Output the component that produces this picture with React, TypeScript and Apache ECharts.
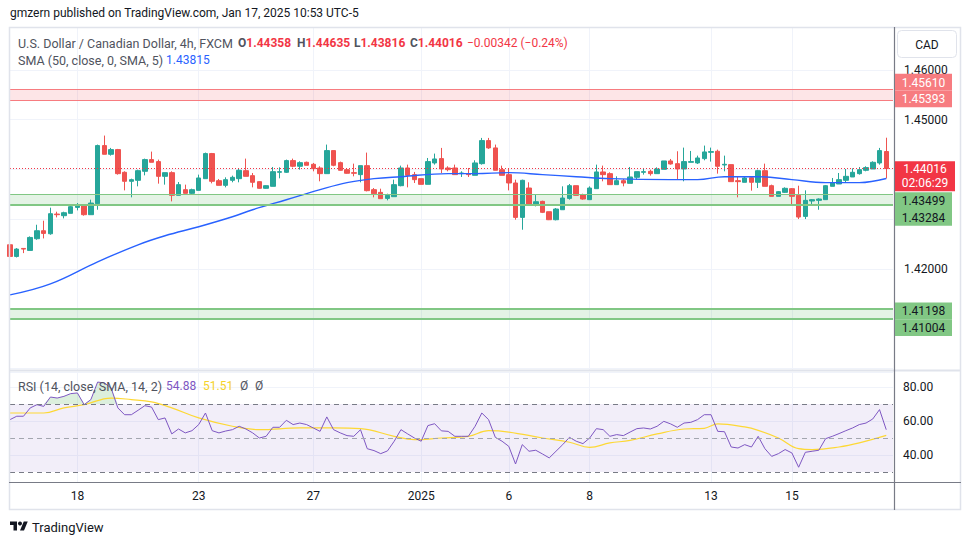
import React, { useEffect, useRef } from "react";
import * as echarts from "echarts";

echarts.graphic.registerShape(
  "tvlogo",
  echarts.graphic.extendPath("M14 22H7V11H0V4h14v18zM28 22h-8l7.5-18h8L28 22z", {})
);

const FONT = "Roboto, 'Noto Sans', sans-serif";

// ---- data ----
// bar slots (4h bars); last slot left empty as right margin
const barSlots: string[] = Array.from({ length: 132 }, (_, i) => String(i));
const dateTickIndex = [10, 28, 45, 61, 74, 86, 104, 116];
const dateTickLabels = ["18", "23", "27", "2025", "6", "8", "13", "15"];

// [open, close, low, high]
const candles: number[][] = [
  [1.42484, 1.42249, 1.42236, 1.42497], [1.42249, 1.42397, 1.42229, 1.42417], [1.4241, 1.42397, 1.42316, 1.42417],
  [1.4237, 1.42631, 1.4237, 1.42652], [1.42605, 1.42766, 1.42584, 1.42886], [1.42766, 1.42712, 1.42611, 1.42967],
  [1.42705, 1.43108, 1.42685, 1.43229], [1.43101, 1.43088, 1.43034, 1.43148], [1.43068, 1.43128, 1.43014, 1.43148],
  [1.43115, 1.43249, 1.43115, 1.43282], [1.43235, 1.43282, 1.43175, 1.43322], [1.43289, 1.43088, 1.43068, 1.43302],
  [1.43088, 1.43322, 1.43088, 1.4339], [1.43309, 1.44477, 1.43188, 1.44497], [1.44477, 1.44302, 1.44302, 1.44678],
  [1.44302, 1.44396, 1.44275, 1.4443], [1.44396, 1.43913, 1.43893, 1.4441], [1.4394, 1.43759, 1.43577, 1.4396],
  [1.43759, 1.43792, 1.43437, 1.43812], [1.43779, 1.43973, 1.43658, 1.43993], [1.4396, 1.44195, 1.43879, 1.44215],
  [1.44195, 1.44141, 1.44141, 1.44356], [1.44155, 1.43859, 1.43712, 1.44195], [1.43859, 1.43933, 1.43692, 1.43933],
  [1.43933, 1.43477, 1.43356, 1.4396], [1.43477, 1.43692, 1.43477, 1.43745], [1.43591, 1.43517, 1.43517, 1.43692],
  [1.43517, 1.43591, 1.4349, 1.43611], [1.43577, 1.43826, 1.43577, 1.43893], [1.43812, 1.44316, 1.43812, 1.44336],
  [1.44316, 1.43759, 1.43718, 1.44329], [1.43772, 1.43678, 1.43678, 1.43806], [1.43678, 1.43792, 1.43638, 1.43839],
  [1.43779, 1.43839, 1.43739, 1.43873], [1.43812, 1.4398, 1.43739, 1.44007], [1.43973, 1.43859, 1.43859, 1.44215],
  [1.43873, 1.43739, 1.43638, 1.43926], [1.43752, 1.43618, 1.43611, 1.43759], [1.43618, 1.43671, 1.43611, 1.43678],
  [1.43658, 1.43953, 1.43658, 1.44047], [1.4394, 1.43953, 1.43819, 1.4404], [1.4394, 1.44175, 1.43926, 1.44195],
  [1.44175, 1.44061, 1.4404, 1.44215], [1.44061, 1.44134, 1.43993, 1.44161], [1.44141, 1.44081, 1.44081, 1.44155],
  [1.44101, 1.44014, 1.4396, 1.44128], [1.44027, 1.43913, 1.43759, 1.44061], [1.43913, 1.44376, 1.43913, 1.44497],
  [1.44376, 1.44081, 1.44061, 1.44376], [1.44134, 1.4398, 1.43973, 1.44155], [1.43993, 1.4392, 1.43913, 1.44007],
  [1.43933, 1.4392, 1.43859, 1.44114], [1.43893, 1.44074, 1.43739, 1.44074], [1.44074, 1.43571, 1.43557, 1.44336],
  [1.43591, 1.4351, 1.43437, 1.43624], [1.43537, 1.4341, 1.4341, 1.43611], [1.43416, 1.43477, 1.43376, 1.4351],
  [1.4345, 1.43692, 1.4345, 1.43792], [1.43671, 1.44027, 1.43658, 1.44074], [1.44027, 1.43879, 1.43638, 1.44094],
  [1.43893, 1.43792, 1.43725, 1.43947], [1.43812, 1.43698, 1.43698, 1.43812], [1.43698, 1.44155, 1.43698, 1.44228],
  [1.44128, 1.44208, 1.44094, 1.44316], [1.44215, 1.44007, 1.43926, 1.4443], [1.44027, 1.43993, 1.4396, 1.44061],
  [1.44027, 1.43893, 1.43893, 1.44094], [1.43913, 1.43926, 1.43846, 1.4396], [1.43913, 1.43893, 1.43846, 1.44027],
  [1.43879, 1.44128, 1.43879, 1.44181], [1.44114, 1.44577, 1.44094, 1.44631], [1.44577, 1.4443, 1.4441, 1.44631],
  [1.4443, 1.4398, 1.4398, 1.44497], [1.43993, 1.43879, 1.43879, 1.44074], [1.43893, 1.43725, 1.43577, 1.44007],
  [1.43725, 1.43034, 1.42987, 1.43792], [1.43034, 1.43779, 1.42786, 1.43792], [1.43624, 1.43289, 1.43269, 1.43739],
  [1.43289, 1.43349, 1.43255, 1.43483], [1.43356, 1.43135, 1.43121, 1.43369], [1.43148, 1.42987, 1.4298, 1.43148],
  [1.42987, 1.43202, 1.42974, 1.43222], [1.43188, 1.43423, 1.43188, 1.43658], [1.43416, 1.43671, 1.4339, 1.43705],
  [1.43671, 1.43477, 1.43477, 1.43671], [1.4349, 1.43403, 1.4339, 1.4351], [1.4339, 1.43624, 1.4339, 1.43658],
  [1.43611, 1.43947, 1.43611, 1.44094], [1.43947, 1.43893, 1.43759, 1.44074], [1.43913, 1.43692, 1.43692, 1.4394],
  [1.43692, 1.43772, 1.43692, 1.43859], [1.43772, 1.43725, 1.43658, 1.43806], [1.43718, 1.43846, 1.43718, 1.44047],
  [1.43839, 1.43953, 1.43792, 1.43953], [1.4394, 1.43953, 1.43893, 1.44027], [1.4396, 1.43913, 1.43873, 1.43993],
  [1.43913, 1.44007, 1.43913, 1.4404], [1.44, 1.44168, 1.44, 1.44168], [1.44168, 1.44108, 1.44094, 1.44208],
  [1.44114, 1.44007, 1.43806, 1.44363], [1.44007, 1.44155, 1.43759, 1.44436], [1.44141, 1.44155, 1.44141, 1.44369],
  [1.44128, 1.44228, 1.44108, 1.44275], [1.44215, 1.44349, 1.44181, 1.44477], [1.44342, 1.44356, 1.44155, 1.44436],
  [1.44363, 1.44061, 1.43913, 1.44396], [1.44087, 1.44101, 1.4396, 1.44275], [1.44094, 1.43752, 1.43752, 1.44094],
  [1.43772, 1.43752, 1.43437, 1.43859], [1.43739, 1.43826, 1.43739, 1.43859], [1.43832, 1.43739, 1.43571, 1.43859],
  [1.43739, 1.43973, 1.43624, 1.43993], [1.43973, 1.43658, 1.43658, 1.44114], [1.43671, 1.43457, 1.43457, 1.43692],
  [1.43457, 1.43551, 1.43457, 1.43564], [1.43537, 1.43618, 1.43524, 1.43638], [1.43611, 1.43457, 1.43302, 1.43624],
  [1.43477, 1.43041, 1.43, 1.43671], [1.43054, 1.43376, 1.43, 1.43577], [1.43363, 1.4339, 1.43289, 1.43403],
  [1.43376, 1.43403, 1.43188, 1.43416], [1.4339, 1.43671, 1.4339, 1.43685], [1.43658, 1.43725, 1.43658, 1.43826],
  [1.43705, 1.43792, 1.43705, 1.43926], [1.43779, 1.43859, 1.43725, 1.44007], [1.43846, 1.4394, 1.43846, 1.4402],
  [1.43913, 1.43993, 1.43893, 1.44047], [1.4398, 1.44034, 1.4396, 1.44061], [1.44007, 1.44141, 1.44007, 1.44161],
  [1.44128, 1.44376, 1.44094, 1.4443], [1.44358, 1.44016, 1.43816, 1.44635],
];

// SMA(50) read at selected bars: [bar index, value]
const smaIdx = [0, 6, 13, 19, 23, 28, 33, 36, 41, 46, 50, 54, 58, 65, 69, 74, 79, 84, 89, 98, 102, 106, 111, 116, 121, 126, 130];
const smaVal = [1.41477, 1.41698, 1.42141, 1.42483, 1.42665, 1.42846, 1.43047, 1.43188, 1.43389, 1.43591, 1.43732, 1.43812,
  1.43852, 1.43913, 1.43913, 1.43933, 1.43893, 1.43852, 1.43812, 1.43792, 1.43792, 1.43852, 1.43852, 1.43792, 1.43732,
  1.43732, 1.43815];

const rsi = [60.8, 62.8, 62.8, 67.7, 69.6, 68.6, 74.1, 73.5, 74.5, 76.1, 76.5, 69.6, 72.6, 82.9, 82.4, 79.4, 67.7, 63.7, 63.7,
  66.3, 69.0, 68.2, 60.8, 61.8, 52.4, 55.3, 53.0, 54.3, 57.9, 64.7, 54.3, 53.0, 54.1, 54.9, 56.9, 55.3, 53.0, 50.0, 51.0, 56.3,
  56.3, 60.4, 57.9, 58.8, 57.9, 55.9, 53.9, 62.4, 54.9, 53.0, 51.4, 51.0, 54.9, 43.7, 42.6, 40.8, 42.4, 48.1, 54.9, 52.4, 50.0,
  48.1, 57.3, 58.4, 54.2, 53.9, 51.0, 51.0, 51.0, 56.9, 64.7, 60.8, 50.4, 48.1, 45.1, 34.7, 46.1, 42.2, 42.8, 40.6, 38.3, 42.2,
  46.1, 50.4, 48.1, 46.7, 50.0, 55.5, 54.9, 51.0, 52.0, 51.4, 53.5, 55.5, 55.9, 55.3, 56.9, 59.8, 58.3, 56.3, 58.8, 59.2, 60.8,
  63.7, 63.7, 53.9, 53.7, 44.7, 44.1, 46.1, 44.7, 51.0, 43.7, 39.2, 40.8, 43.2, 41.2, 32.8, 41.6, 42.2, 42.8, 49.6, 51.0, 52.6,
  54.3, 55.9, 57.9, 58.8, 61.2, 66.7, 54.88];

const rsiMaIdx = [0, 5, 8, 11, 15, 18, 21, 24, 28, 33, 37, 43, 48, 52, 57, 60, 64, 68, 71, 74, 79, 83, 86, 89, 92, 96, 100, 103,
  105, 109, 111, 114, 117, 119, 123, 126, 130];
const rsiMaVal = [64.7, 64.7, 67.7, 69.6, 73.5, 72.6, 71.2, 67.7, 61.8, 56.9, 54.9, 55.9, 55.9, 55.5, 51.0, 49.0, 50.0, 51.0,
  54.3, 53.5, 50.0, 47.5, 44.5, 47.1, 48.6, 52.4, 55.3, 55.7, 58.3, 56.5, 54.5, 50.0, 43.7, 43.2, 44.7, 47.1, 51.51];

const resistanceZone = [1.45393, 1.4561];
const supportZoneA = [1.43284, 1.43499];
const supportZoneB = [1.41004, 1.41198];
const lastPrice = 1.44016;
const countdown = "02:06:29";
const priceTicksShown = [1.46, 1.45, 1.42];
const rsiTicksShown = [40, 60, 80];
const rsiLevels = [70, 50, 30];

const UP = "#26a69a";
const DOWN = "#ef5350";
const GRID = "#f0f3fa";
const TXT = "#131722";
const LEG = "#50535e";

export default function App() {
  const ref = useRef<HTMLDivElement>(null);

  useEffect(() => {
    const el = ref.current;
    if (!el) return;
    const chart = echarts.init(el, undefined, { renderer: "svg" });
    const isTick = (i: number) => dateTickIndex.indexOf(i) >= 0;
    const tickLabel = (i: number) => {
      const k = dateTickIndex.indexOf(i);
      return k >= 0 ? dateTickLabels[k] : "";
    };
    const t = (text: string, left: number, top: number, color = LEG, size = 12.5) => ({
      text,
      left,
      top,
      padding: 0,
      textStyle: { color, fontSize: size, fontWeight: "normal", fontFamily: FONT, lineHeight: 16 },
    });
    const rich = (lbl: string, val: string, left: number, top: number) => ({
      text: `{g|${lbl}}{r|${val}}`,
      left,
      top,
      padding: 0,
      textStyle: {
        fontFamily: FONT,
        fontSize: 12,
        lineHeight: 16,
        rich: {
          g: { color: LEG, fontSize: 12, fontFamily: FONT },
          r: { color: "#f23645", fontSize: 12, fontFamily: FONT },
        },
      },
    });
    const bandLine = (v: number, color: string, width: number) => ({
      yAxis: v,
      lineStyle: { color, width, type: "solid" },
      label: { show: false },
    });

    const option: any = {
      animation: false,
      backgroundColor: "#ffffff",
      title: [
        t("gmzern published on TradingView.com, Jan 17, 2025 10:53 UTC-5", 10, 5, TXT, 12),
        t("U.S. Dollar / Canadian Dollar, 4h, FXCM", 18, 35),
        rich("O", "1.44358", 238, 35),
        rich("H", "1.44635", 297, 35),
        rich("L", "1.43816", 354, 35),
        rich("C", "1.44016", 410, 35),
        t("\u22120.00342 (\u22120.24%)", 467, 35, "#f23645", 12),
        t("SMA (50, close, 0, SMA, 5)", 18, 52),
        t("1.43815", 166, 52, "#2962ff", 12),
        t("RSI (14, close, SMA, 14, 2)", 18, 378),
        t("54.88", 166, 378, "#7e57c2", 12),
        t("51.51", 203, 378, "#f5d32a", 12),
        t("\u00d8", 240, 378, LEG, 12),
        t("\u00d8", 255, 378, LEG, 12),
        t("TradingView", 32, 519, TXT, 13),
      ],
      grid: [
        { left: 10, right: 77, top: 27, height: 343 },
        { left: 10, right: 77, top: 372, height: 110 },
      ],
      xAxis: [
        {
          type: "category",
          gridIndex: 0,
          data: barSlots,
          boundaryGap: false,
          axisLine: { show: false },
          axisTick: { show: false },
          axisLabel: { show: false },
          splitLine: { show: true, interval: (i: number) => isTick(i), lineStyle: { color: GRID, width: 1 } },
        },
        {
          type: "category",
          gridIndex: 1,
          data: barSlots,
          boundaryGap: false,
          axisLine: { show: false },
          axisTick: { show: false },
          axisLabel: {
            show: true,
            interval: (i: number) => isTick(i),
            formatter: (_v: string, i: number) => tickLabel(i),
            color: TXT,
            fontSize: 12,
            fontFamily: FONT,
            margin: 8,
          },
          splitLine: { show: true, interval: (i: number) => isTick(i), lineStyle: { color: GRID, width: 1 } },
        },
      ],
      yAxis: [
        {
          type: "value",
          gridIndex: 0,
          position: "right",
          min: 1.39967,
          max: 1.4686,
          splitNumber: 7,
          scale: true,
          axisLine: { show: false },
          axisTick: { show: false },
          axisLabel: {
            color: TXT,
            fontSize: 12,
            fontFamily: FONT,
            margin: 11,
            showMinLabel: false,
            showMaxLabel: false,
            formatter: (v: number) => (priceTicksShown.some((p) => Math.abs(p - v) < 1e-7) ? v.toFixed(5) : ""),
          },
          splitLine: { show: true, lineStyle: { color: GRID, width: 1 } },
        },
        {
          type: "value",
          gridIndex: 1,
          position: "right",
          min: 24.12,
          max: 88.82,
          splitNumber: 3,
          axisLine: { show: false },
          axisTick: { show: false },
          axisLabel: {
            color: TXT,
            fontSize: 12,
            fontFamily: FONT,
            margin: 10,
            showMinLabel: false,
            showMaxLabel: false,
            formatter: (v: number) => (rsiTicksShown.some((p) => Math.abs(p - v) < 1e-6) ? v.toFixed(2) : ""),
          },
          splitLine: { show: true, lineStyle: { color: GRID, width: 1 } },
        },
      ],
      series: [
        {
          type: "candlestick",
          xAxisIndex: 0,
          yAxisIndex: 0,
          data: candles,
          barWidth: 5,
          clip: true,
          itemStyle: { color: UP, color0: DOWN, borderColor: UP, borderColor0: DOWN, borderWidth: 1 },
          markArea: {
            silent: true,
            data: [
              [{ yAxis: resistanceZone[0], itemStyle: { color: "rgba(242,54,69,0.13)" } }, { yAxis: resistanceZone[1] }],
              [{ yAxis: supportZoneA[0], itemStyle: { color: "rgba(76,175,80,0.15)" } }, { yAxis: supportZoneA[1] }],
              [{ yAxis: supportZoneB[0], itemStyle: { color: "rgba(76,175,80,0.15)" } }, { yAxis: supportZoneB[1] }],
            ],
          },
          markLine: {
            silent: true,
            precision: 5,
            symbol: ["none", "none"],
            label: { show: false },
            data: [
              bandLine(resistanceZone[0], "#f77c80", 1),
              bandLine(resistanceZone[1], "#f77c80", 1),
              bandLine(supportZoneA[0], "#81c784", 2.2),
              bandLine(supportZoneA[1], "#81c784", 1.2),
              bandLine(supportZoneB[0], "#81c784", 1.8),
              bandLine(supportZoneB[1], "#81c784", 1.8),
              { yAxis: lastPrice, lineStyle: { color: "#f23645", width: 1, type: [1, 2] }, label: { show: false } },
            ],
          },
        },
        {
          type: "line",
          name: "SMA",
          xAxisIndex: 0,
          yAxisIndex: 0,
          data: smaIdx.map((i, k) => [i, smaVal[k]]),
          smooth: 0.4,
          symbol: "none",
          lineStyle: { color: "#2962ff", width: 1.4 },
          z: 3,
        },
        {
          type: "line",
          name: "RSI OB fill",
          xAxisIndex: 1,
          yAxisIndex: 1,
          data: rsi.map((v) => Math.max(v, 70)),
          symbol: "none",
          lineStyle: { width: 0, opacity: 0 },
          areaStyle: { origin: 70, color: "rgba(76,175,80,0.28)" },
          silent: true,
        },
        {
          type: "line",
          name: "RSI",
          xAxisIndex: 1,
          yAxisIndex: 1,
          data: rsi,
          symbol: "none",
          lineStyle: { color: "#7e57c2", width: 1 },
          z: 4,
          markArea: {
            silent: true,
            data: [[{ yAxis: 30, itemStyle: { color: "rgba(126,87,194,0.1)" } }, { yAxis: 70 }]],
          },
          markLine: {
            silent: true,
            precision: 2,
            symbol: ["none", "none"],
            label: { show: false },
            data: rsiLevels.map((v) => ({
              yAxis: v,
              lineStyle: { color: v === 50 ? "#a3a6af" : "#787b86", width: 1, type: [5, 4] },
            })),
          },
        },
        {
          type: "line",
          name: "RSI MA",
          xAxisIndex: 1,
          yAxisIndex: 1,
          data: rsiMaIdx.map((i, k) => [i, rsiMaVal[k]]),
          smooth: 0.4,
          symbol: "none",
          lineStyle: { color: "#fdd835", width: 1.2 },
          z: 3,
        },
      ],
    };
    chart.setOption(option);

    const yOf = (v: number) => chart.convertToPixel({ yAxisIndex: 0 }, v) as number;
    const TAG_X = 895;
    const TAG_W = 57;
    const tagDefs = [
      { v: resistanceZone[1], bg: "#f77c80", fg: "#ffffff", nudge: -7 },
      { v: resistanceZone[0], bg: "#f77c80", fg: "#ffffff", nudge: -1.2 },
      { v: supportZoneA[1], bg: "#81c784", fg: TXT, nudge: 6.4 },
      { v: supportZoneA[0], bg: "#81c784", fg: TXT, nudge: 12.5 },
      { v: supportZoneB[1], bg: "#81c784", fg: TXT, nudge: 2.2 },
      { v: supportZoneB[0], bg: "#81c784", fg: TXT, nudge: 9.2 },
    ];
    const txt = (text: string, x: number, y: number, fill: string, font: string, align = "center") => ({
      type: "text",
      z: 120,
      style: {
        text,
        x,
        y,
        fill,
        font,
        textAlign: align,
        align,
        verticalAlign: "middle",
        textVerticalAlign: "middle",
        textBaseline: "middle",
      },
    });
    const graphics: any[] = [];
    tagDefs.forEach((d) => {
      const c = yOf(d.v) + d.nudge;
      graphics.push({
        type: "rect",
        z: 110,
        shape: { x: TAG_X, y: c - 8.4, width: TAG_W, height: 16.8 },
        style: { fill: d.bg },
      });
      graphics.push(txt(d.v.toFixed(5), TAG_X + TAG_W / 2, c + 0.5, d.fg, `12px ${FONT}`));
    });
    const cp = yOf(lastPrice);
    graphics.push({
      type: "rect",
      z: 110,
      shape: { x: TAG_X, y: cp - 7.3, width: 60, height: 30 },
      style: { fill: "#f23645" },
    });
    graphics.push(txt(lastPrice.toFixed(5), TAG_X + 30, cp + 0.5, "#ffffff", `12px ${FONT}`));
    graphics.push(txt(countdown, TAG_X + 30, cp + 14.5, "#ffffff", `12px ${FONT}`));

    // frame & separators
    const ln = (x1: number, y1: number, x2: number, y2: number, stroke: string, lineWidth: number) => ({
      type: "line",
      z: 100,
      silent: true,
      shape: { x1, y1, x2, y2 },
      style: { stroke, lineWidth },
    });
    graphics.push({
      type: "rect",
      z: 100,
      silent: true,
      shape: { x: 9.5, y: 27.5, width: 951, height: 482 },
      style: { fill: "none", stroke: "#e0e3eb", lineWidth: 1.5 },
    });
    graphics.push(ln(9, 370.5, 961, 370.5, "#e0e3eb", 2));
    graphics.push(ln(9, 482.5, 961, 482.5, "#787b86", 1.2));
    graphics.push(ln(894.5, 27, 894.5, 510, "#787b86", 1.2));
    // CAD currency box
    graphics.push({
      type: "rect",
      z: 110,
      shape: { x: 897.5, y: 30.5, width: 59, height: 27, r: 4 },
      style: { fill: "#ffffff", stroke: "#e0e3eb", lineWidth: 1 },
    });
    graphics.push(txt("CAD", 927, 44.5, TXT, `12px ${FONT}`));
    // TradingView logo
    graphics.push({
      type: "tvlogo",
      z: 110,
      x: 10,
      y: 519.5,
      scaleX: 0.5,
      scaleY: 0.5,
      style: { fill: TXT },
    });
    graphics.push({
      type: "circle",
      z: 110,
      shape: { cx: 20, cy: 523.5, r: 2 },
      style: { fill: TXT },
    });

    chart.setOption({ graphic: graphics });

    return () => chart.dispose();
  }, []);

  return (
    <div
      ref={ref}
      style={{ position: "absolute", left: 0, top: 0, width: 970, height: 545, background: "#ffffff" }}
    />
  );
}
